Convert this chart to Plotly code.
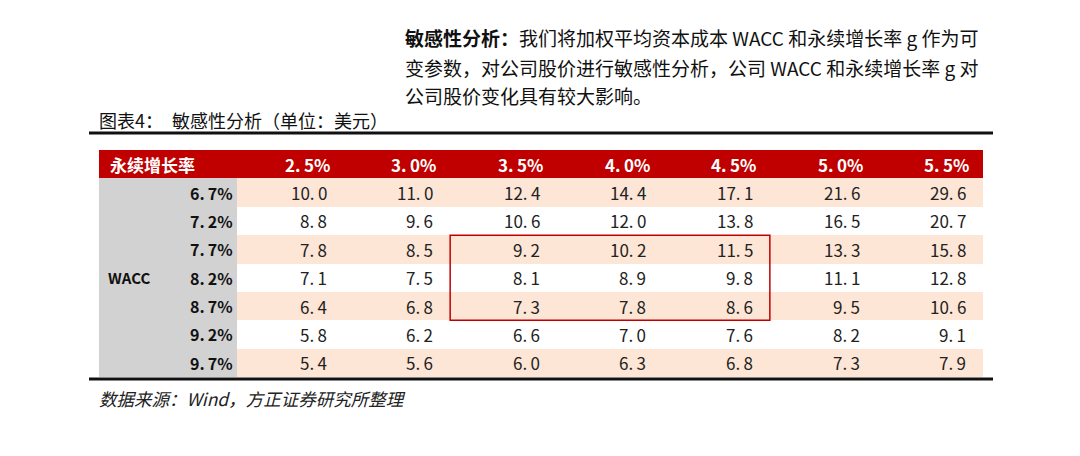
import plotly.graph_objects as go

# sensitivity table: share price (USD) by WACC (rows) and perpetual growth g (columns)
growth = ["2.5%", "3.0%", "3.5%", "4.0%", "4.5%", "5.0%", "5.5%"]
wacc = ["6.7%", "7.2%", "7.7%", "8.2%", "8.7%", "9.2%", "9.7%"]
prices = [
    [10.0, 11.0, 12.4, 14.4, 17.1, 21.6, 29.6],
    [8.8, 9.6, 10.6, 12.0, 13.8, 16.5, 20.7],
    [7.8, 8.5, 9.2, 10.2, 11.5, 13.3, 15.8],
    [7.1, 7.5, 8.1, 8.9, 9.8, 11.1, 12.8],
    [6.4, 6.8, 7.3, 7.8, 8.6, 9.5, 10.6],
    [5.8, 6.2, 6.6, 7.0, 7.6, 8.2, 9.1],
    [5.4, 5.6, 6.0, 6.3, 6.8, 7.3, 7.9],
]
box_cols = ["3.5%", "4.5%"]
box_rows = ["7.7%", "8.7%"]

para = [
    "<b>敏感性分析：</b>我们将加权平均资本成本 WACC 和永续增长率 g 作为可",
    "变参数，对公司股价进行敏感性分析，公司 WACC 和永续增长率 g 对",
    "公司股价变化具有较大影响。",
]
caption = "图表4：\u2002敏感性分析（单位：美元）"
source = "数据来源：Wind，方正证券研究所整理"

RED = "#C00000"
PEACH = "#FDE6D6"
GRAY = "#D2D2D2"
FONT = "Noto Sans CJK SC"
LEFT = -1.795  # left edge of the grey label column
W, H, OFF = 1080, 456, 8  # page has an 8px body margin


def px(p):
    return (p - OFF) / W


def py(p):
    return 1 - (p - OFF) / H


def spaced(s):
    # wide gap after the decimal point, as in the source table font
    return s.replace(".", ".\u2009")


# colour codes: 0 peach, 1 white, 2 grey, 3 red header
z = [[3] * (len(growth) + 1)]
for r in range(len(wacc)):
    z.append([2] + [0 if r % 2 == 0 else 1] * len(growth))

x_edges = [LEFT] + [i - 0.5 for i in range(len(growth) + 1)]
y_edges = [-1.5] + [j - 0.5 for j in range(len(wacc) + 1)]

fig = go.Figure(go.Heatmap(
    z=z, x=x_edges, y=y_edges, zmin=0, zmax=3,
    colorscale=[[0, PEACH], [0.167, PEACH], [0.167, "#FFFFFF"], [0.5, "#FFFFFF"],
                [0.5, GRAY], [0.833, GRAY], [0.833, RED], [1, RED]],
    showscale=False, hoverinfo="skip",
))

ann = []
# header
ann.append(dict(x=LEFT, y=-1, text="<b>永续增长率</b>", xanchor="left", xshift=9,
                font=dict(size=17, color="white", family=FONT)))
for i, g in enumerate(growth):
    ann.append(dict(x=i + 0.16, y=-1, text="<b>" + spaced(g) + "</b>",
                    font=dict(size=17, color="white", family=FONT)))
# row labels + values
for r, w in enumerate(wacc):
    ann.append(dict(x=-0.5, y=r, text="<b>" + spaced(w) + "</b>", xanchor="right", xshift=-2,
                    font=dict(size=16, color="#111111", family=FONT)))
    for c, v in enumerate(prices[r]):
        ann.append(dict(x=c + 0.36, y=r, text=spaced(f"{v:.1f}"), xanchor="right",
                        font=dict(size=17, color="#222222", family=FONT)))
ann.append(dict(x=LEFT, y=(len(wacc) - 1) / 2, text="<b>WACC</b>", xanchor="left", xshift=7,
                font=dict(size=15, color="#111111", family=FONT)))

# surrounding text
for k, line in enumerate(para):
    ann.append(dict(xref="paper", yref="paper", x=px(403), y=py(38 + k * 29), text=line,
                    xanchor="left", yanchor="middle",
                    font=dict(size=19, color="#111111", family=FONT)))
ann.append(dict(xref="paper", yref="paper", x=px(97), y=py(120), text=caption,
                xanchor="left", yanchor="middle",
                font=dict(size=18, color="#111111", family=FONT)))
ann.append(dict(xref="paper", yref="paper", x=px(97), y=py(398), text="<i>" + source + "</i>",
                xanchor="left", yanchor="middle",
                font=dict(size=17.5, color="#222222", family=FONT)))

for a in ann:
    a.setdefault("showarrow", False)

shapes = [
    # highlight box
    dict(type="rect", xref="x", yref="y",
         x0=growth.index(box_cols[0]) - 0.5, x1=growth.index(box_cols[1]) + 0.5,
         y0=wacc.index(box_rows[0]) - 0.5, y1=wacc.index(box_rows[1]) + 0.5,
         line=dict(color=RED, width=1.5)),
    # top and bottom rules
    dict(type="line", xref="paper", yref="paper", x0=px(89), x1=px(993), y0=py(133), y1=py(133),
         line=dict(color="#111111", width=3)),
    dict(type="line", xref="paper", yref="paper", x0=px(89), x1=px(993), y0=py(379), y1=py(379),
         line=dict(color="#111111", width=3)),
]

fig.update_layout(
    width=W, height=H,
    margin=dict(l=0, r=0, t=0, b=0),
    paper_bgcolor="white", plot_bgcolor="white",
    annotations=ann, shapes=shapes,
    xaxis=dict(visible=False, range=[LEFT, len(growth) - 0.5], domain=[px(99), px(983)],
               fixedrange=True),
    yaxis=dict(visible=False, range=[len(wacc) - 0.5, -1.5], domain=[py(377), py(150)],
               fixedrange=True),
)

fig.write_html("out.html")
